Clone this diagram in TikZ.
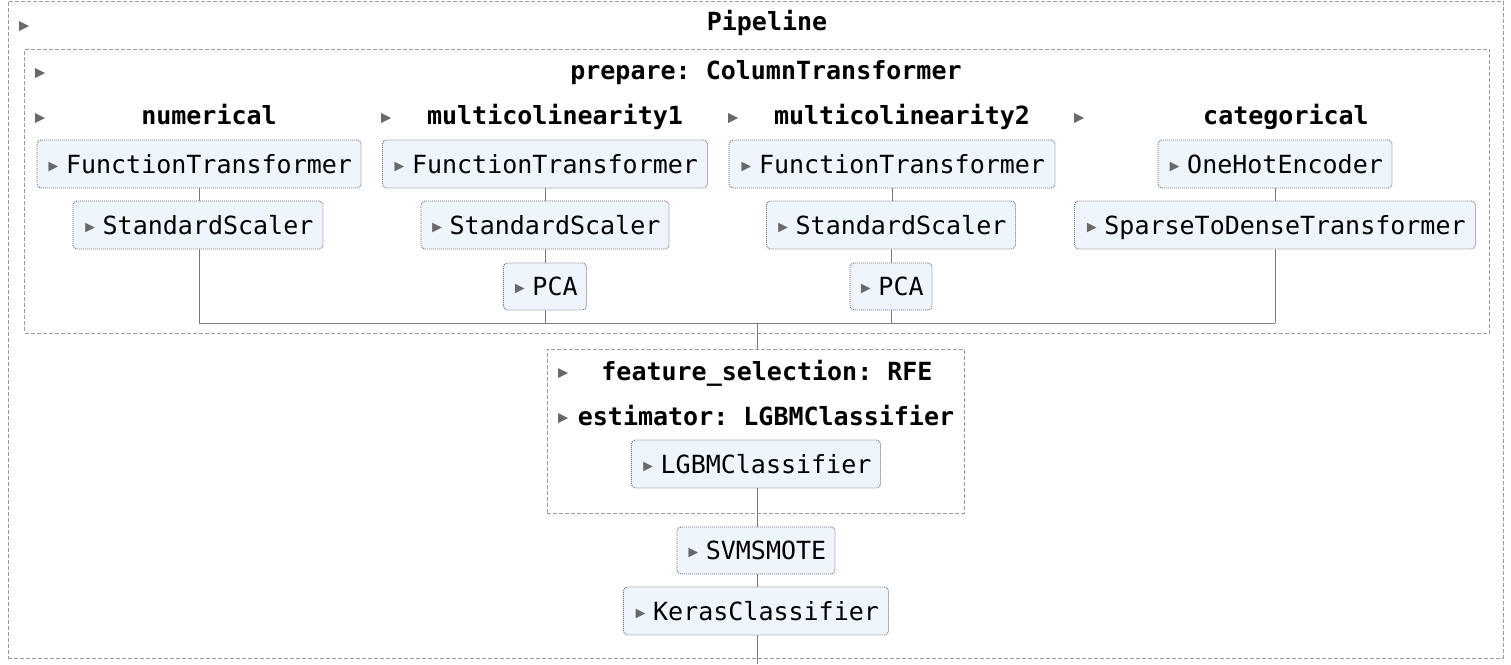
\documentclass[tikz,border=0pt]{standalone}
\usepackage{fontspec}
\newfontfamily\dvm{DejaVu Sans Mono}
\definecolor{skblue}{HTML}{EEF5FD}
\definecolor{boxgray}{HTML}{707070}
\definecolor{dashgray}{HTML}{9A9A9A}
\definecolor{linegray}{HTML}{7A7A7A}
\definecolor{trigray}{HTML}{696969}
\newcommand\arr{{\color{trigray}▸}\hspace{5pt}}
\frenchspacing
\begin{document}
\begin{tikzpicture}[x=1pt,y=-1pt,
  est/.style={draw=boxgray, dash pattern=on 1pt off 1pt, line width=0.9pt, rounded corners=4pt,
    fill=skblue, inner sep=0pt, text height=18pt, text depth=0pt,
    font=\dvm\fontsize{25}{30}\selectfont},
  wh/.style 2 args={minimum width=#1pt, minimum height=#2pt},
  grp/.style={draw=dashgray, dash pattern=on 4pt off 2pt, line width=1pt, inner sep=0pt},
  ttl/.style={font=\dvm\bfseries\fontsize{25}{30}\selectfont\frenchspacing, anchor=base, inner sep=0pt},
  tri/.style={fill=trigray},
  conn/.style={draw=linegray, line width=1pt}]
\useasboundingbox (0,0) rectangle (1511,664);

% group boxes
\node[grp, wh={1495}{657}] (pipe) at (755.5,329.5) {};
\node[grp, wh={1465}{284}] (ct) at (757,191) {};
\node[grp, wh={417}{164}] (fs) at (755.5,431) {};

% header triangles
\fill[tri] (24,26) +(-5,-5) -- +(5,0) -- +(-5,5) -- cycle;
\fill[tri] (40,73) +(-5,-5) -- +(5,0) -- +(-5,5) -- cycle;
\fill[tri] (40,118) +(-5,-5) -- +(5,0) -- +(-5,5) -- cycle;
\fill[tri] (386,118) +(-5,-5) -- +(5,0) -- +(-5,5) -- cycle;
\fill[tri] (733,118) +(-5,-5) -- +(5,0) -- +(-5,5) -- cycle;
\fill[tri] (1079,118) +(-5,-5) -- +(5,0) -- +(-5,5) -- cycle;
\fill[tri] (563,373) +(-5,-5) -- +(5,0) -- +(-5,5) -- cycle;
\fill[tri] (563,418) +(-5,-5) -- +(5,0) -- +(-5,5) -- cycle;

% titles
\node[ttl] (tpipe) at (767,30) {Pipeline};
\node[ttl] (tct) at (766,79) {prepare: ColumnTransformer};
\node[ttl] (tnum) at (209,124) {numerical};
\node[ttl] (tm1) at (555,124) {multicolinearity1};
\node[ttl] (tm2) at (902,124) {multicolinearity2};
\node[ttl] (tcat) at (1286,124) {categorical};
\node[ttl] (tfs) at (767,380) {feature\_selection: RFE};
\node[ttl] (test) at (766,425) {estimator: LGBMClassifier};

% connector end points
\coordinate (j1) at (199,323);
\coordinate (j4) at (1275,323);
\coordinate (jc) at (757,323);
\coordinate (bot) at (757,664);

% estimator boxes
\node[est, wh={324}{48}] (ft1) at (199,164) {\arr FunctionTransformer};
\node[est, wh={250}{48}] (ss1) at (198,225) {\arr StandardScaler};
\node[est, wh={325}{48}] (ft2) at (545,164) {\arr FunctionTransformer};
\node[est, wh={248}{48}] (ss2) at (545,225) {\arr StandardScaler};
\node[est, wh={83}{47}] (pca2) at (545,286.5) {\arr PCA};
\node[est, wh={326}{48}] (ft3) at (892,164) {\arr FunctionTransformer};
\node[est, wh={249}{48}] (ss3) at (891,225) {\arr StandardScaler};
\node[est, wh={82}{47}] (pca3) at (891,286.5) {\arr PCA};
\node[est, wh={234}{48}] (ohe) at (1275,164) {\arr OneHotEncoder};
\node[est, wh={401}{48}] (std) at (1275,225) {\arr SparseToDenseTransformer};
\node[est, wh={249}{48}] (lgbm) at (756,464) {\arr LGBMClassifier};
\node[est, wh={158}{47}] (svm) at (756,550.5) {\arr SVMSMOTE};
\node[est, wh={265}{48}] (keras) at (756,611) {\arr KerasClassifier};

\path[conn] (ft1.south) -- (ft1.south |- ss1.north);
\path[conn] (ss1.south -| j1) -- (j1);
\path[conn] (ft2.south) -- (ft2.south |- ss2.north);
\path[conn] (ss2.south) -- (ss2.south |- pca2.north);
\path[conn] (pca2.south) -- (pca2.south |- j1);
\path[conn] (ft3.south) -- (ft3.south |- ss3.north);
\path[conn] (ss3.south) -- (ss3.south |- pca3.north);
\path[conn] (pca3.south) -- (pca3.south |- j1);
\path[conn] (ohe.south) -- (ohe.south |- std.north);
\path[conn] (std.south) -- (j4);
\path[conn] (j1) -- (j4);
\path[conn] (jc) -- (jc |- fs.north);
\path[conn] (lgbm.south -| jc) -- (jc |- svm.north);
\path[conn] (svm.south -| jc) -- (jc |- keras.north);
\path[conn] (keras.south -| jc) -- (bot);
\end{tikzpicture}
\end{document}
